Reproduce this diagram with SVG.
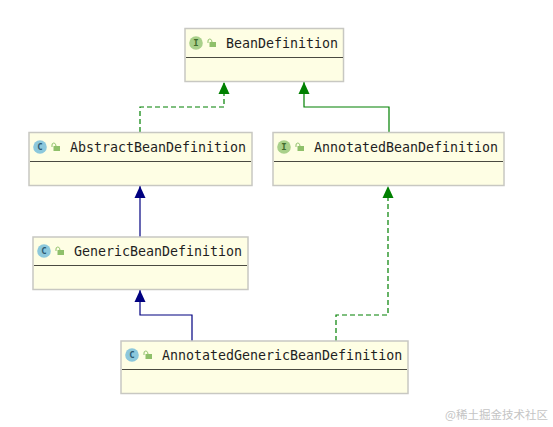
<svg xmlns="http://www.w3.org/2000/svg" width="553" height="427" viewBox="0 0 553 427">
<style>
.box{fill:#fefee4;stroke:#c8c8c2;stroke-width:1.5}
.div{stroke:#4a4a40;stroke-width:1}
.name{font-family:"DejaVu Sans Mono","Liberation Mono",monospace;font-size:13.3px;fill:#1f1f1f}
.ic{font-family:"DejaVu Sans Mono","Liberation Mono",monospace;font-size:9px;font-weight:bold;text-anchor:middle}
.i{fill:#a9d08a}.c{fill:#8cc8dc}
.it{fill:#3f6b2a}.ct{fill:#2c5a70}
.lockb{fill:#8fc06a}
.lockh{fill:none;stroke:#8fc06a;stroke-width:1}
.g{fill:none;stroke:#008000;stroke-width:1.2}
.n{fill:none;stroke:#000080;stroke-width:1.2}
.d{stroke-dasharray:5 3}
.wm{font-family:"Noto Sans CJK SC","Noto Sans",sans-serif;font-size:11.500px;fill:#c4c4c4}
</style>
<defs>
<marker id="ag" markerUnits="userSpaceOnUse" markerWidth="12" markerHeight="12" refX="12" refY="6" orient="auto"><path d="M0 0.500L12 6L0 11.500Z" fill="#008000"/></marker>
<marker id="an" markerUnits="userSpaceOnUse" markerWidth="12" markerHeight="12" refX="12" refY="6" orient="auto"><path d="M0 0.500L12 6L0 11.500Z" fill="#000080"/></marker>
<g id="lock"><rect x="2.500" y="3.500" width="6.500" height="5" class="lockb"/><path d="M1 4.500V2.500A1.800 1.800 0 0 1 4.500 1.800L5 3.500" class="lockh"/></g>
</defs>
<rect width="553" height="427" fill="#fff"/>
<g id="connectors">
<path class="g d" marker-end="url(#ag)" d="M140 132V107H224V82"/>
<path class="g" marker-end="url(#ag)" d="M389 132V107H304V82"/>
<path class="n" marker-end="url(#an)" d="M140 237V186"/>
<path class="n" marker-end="url(#an)" d="M192 341V315H140V290"/>
<path class="g d" marker-end="url(#ag)" d="M336 341V315H388V186"/>
</g>
<g id="BeanDefinition">
<rect class="box" x="185" y="28.500" width="158.500" height="53"/>
<line class="div" x1="186" x2="343" y1="57.500" y2="57.500"/>
<circle class="i" cx="196" cy="43" r="6.800"/><text class="ic it" x="196" y="46">I</text>
<use href="#lock" x="207" y="38.500"/>
<text class="name" x="226" y="48">BeanDefinition</text>
</g>
<g id="AbstractBeanDefinition">
<rect class="box" x="29" y="132.500" width="223" height="53"/>
<line class="div" x1="30" x2="251" y1="161.500" y2="161.500"/>
<circle class="c" cx="40" cy="147" r="6.800"/><text class="ic ct" x="40" y="150">C</text>
<use href="#lock" x="51" y="142.500"/>
<text class="name" x="70" y="152">AbstractBeanDefinition</text>
</g>
<g id="AnnotatedBeanDefinition">
<rect class="box" x="273" y="132.500" width="231" height="53"/>
<line class="div" x1="274" x2="503" y1="161.500" y2="161.500"/>
<circle class="i" cx="284" cy="147" r="6.800"/><text class="ic it" x="284" y="150">I</text>
<use href="#lock" x="295" y="142.500"/>
<text class="name" x="314" y="152">AnnotatedBeanDefinition</text>
</g>
<g id="GenericBeanDefinition">
<rect class="box" x="33" y="237" width="215" height="52.500"/>
<line class="div" x1="34" x2="247" y1="265.500" y2="265.500"/>
<circle class="c" cx="44" cy="251" r="6.800"/><text class="ic ct" x="44" y="254">C</text>
<use href="#lock" x="55" y="246.500"/>
<text class="name" x="74" y="256">GenericBeanDefinition</text>
</g>
<g id="AnnotatedGenericBeanDefinition">
<rect class="box" x="121" y="341" width="287" height="52.500"/>
<line class="div" x1="122" x2="407" y1="369.500" y2="369.500"/>
<circle class="c" cx="132" cy="355" r="6.800"/><text class="ic ct" x="132" y="358">C</text>
<use href="#lock" x="143" y="350.500"/>
<text class="name" x="162" y="360">AnnotatedGenericBeanDefinition</text>
</g>
<text class="wm" x="445" y="419">@稀土掘金技术社区</text>
</svg>
